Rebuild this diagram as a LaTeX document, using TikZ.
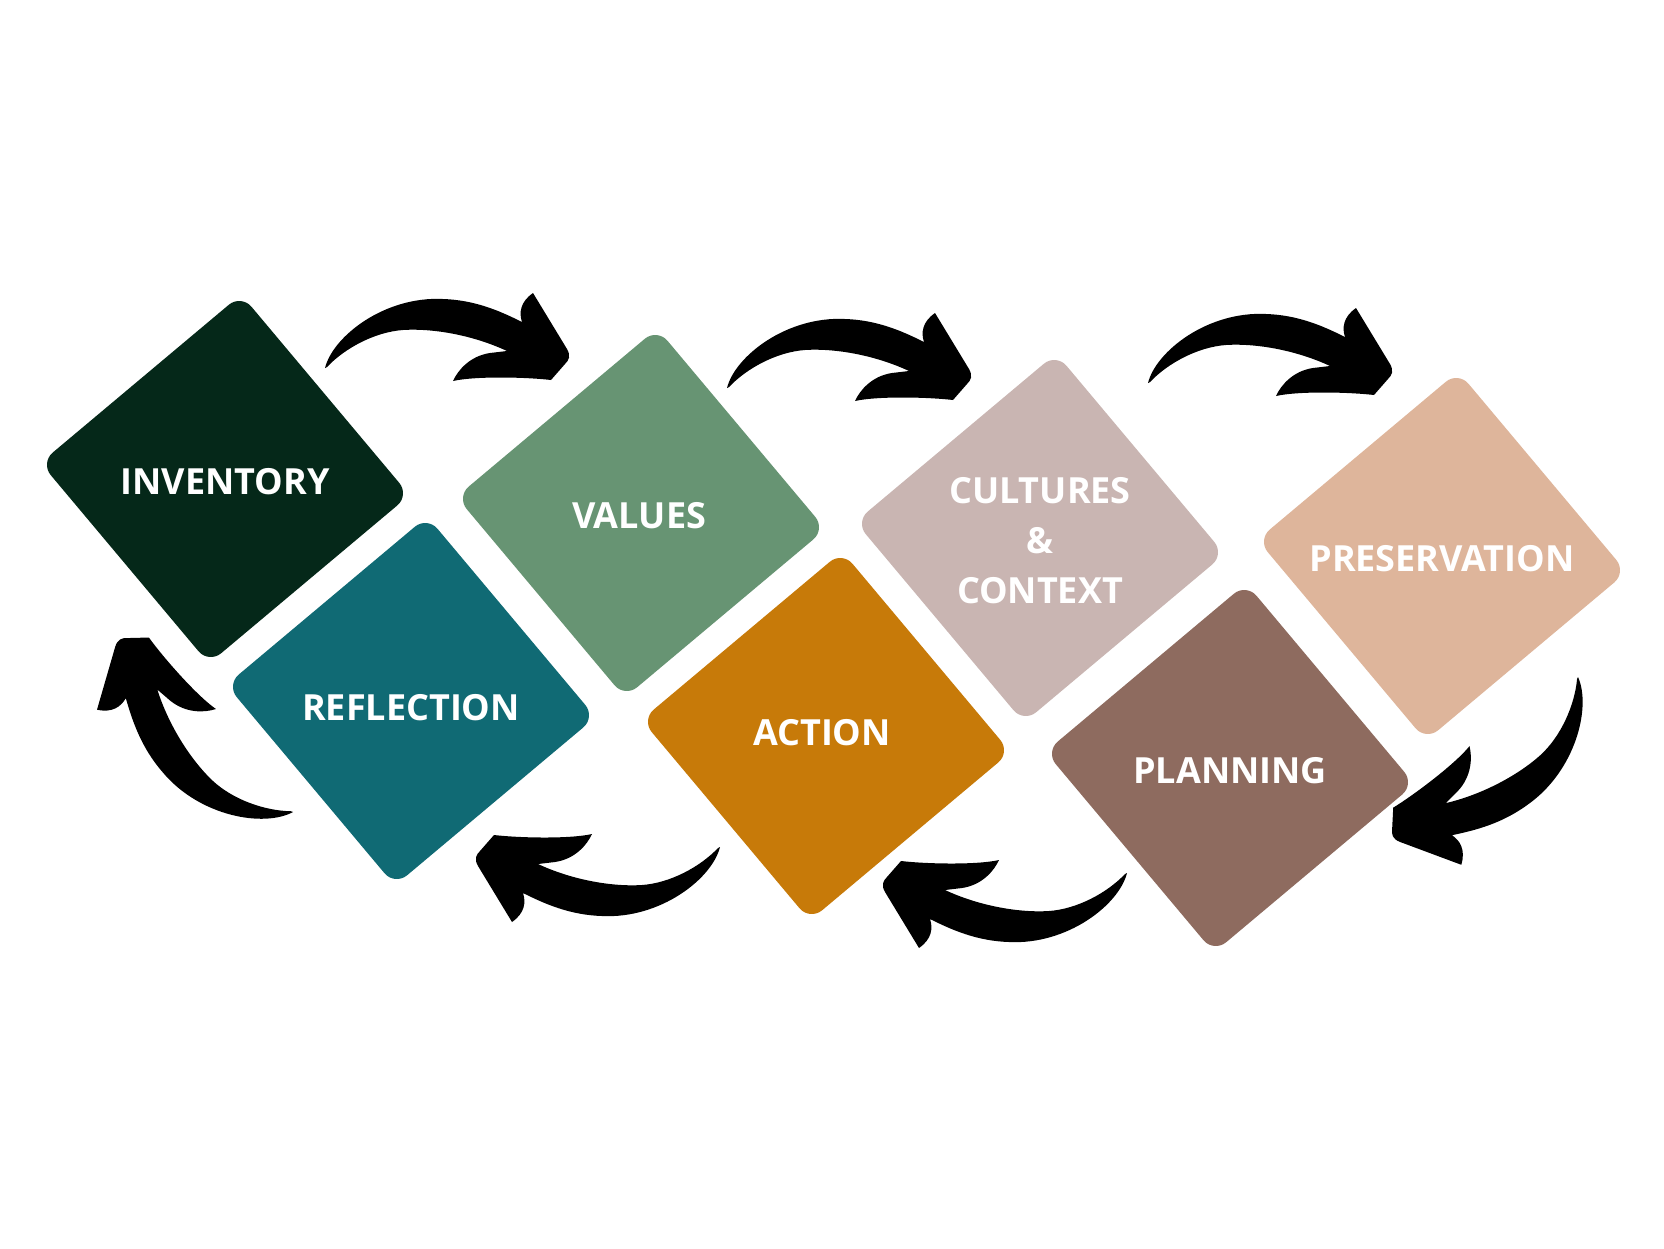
\documentclass[tikz,border=0pt]{standalone}
\usepackage{fontspec}
\setmainfont{Open Sans}
\usepackage{tikz}
\definecolor{inventory}{RGB}{5,40,25}
\definecolor{values}{RGB}{103,148,115}
\definecolor{cultures}{RGB}{201,181,178}
\definecolor{preservation}{RGB}{222,181,155}
\definecolor{reflection}{RGB}{16,106,116}
\definecolor{action}{RGB}{199,122,9}
\definecolor{planning}{RGB}{142,107,95}

\begin{document}
\begin{tikzpicture}[x=1pt, y=-1pt,
  tile/.style={rectangle, rounded corners=16pt, minimum size=262pt, inner sep=0pt, rotate=40},
  tag/.style={text=white, align=center, font=\fontsize{36}{50}\selectfont\bfseries, yshift=-3pt},
  swoosh/.pic={
    \fill[black] (0,0) .. controls (8,-32) and (60,-72) .. (118,-69)
      .. controls (150,-68) and (175,-57) .. (197,-46)
      .. controls (194,-55) and (195,-66) .. (208,-75)
      -- (242,-19) .. controls (246,-12) and (244,-8) .. (240,-4) -- (226,12)
      .. controls (200,9) and (150,8) .. (128,13)
      .. controls (133,2) and (145,-12) .. (165,-15) -- (182,-17)
      .. controls (150,-32) and (110,-40) .. (78,-38)
      .. controls (50,-36) and (20,-20) .. (2,-1) -- cycle;
  }]
\useasboundingbox (0,0) rectangle (1664,1248);

% top row
\node[tile, fill=inventory] (inventory) at (225,479) {};
\node[tile, fill=values] (values) at (641,513) {};
\node[tile, fill=cultures] (cultures) at (1040,538) {};
\node[tile, fill=preservation] (preservation) at (1442,556) {};
% bottom row
\node[tile, fill=reflection] (reflection) at (411,701) {};
\node[tile, fill=action] (action) at (826,736) {};
\node[tile, fill=planning] (planning) at (1230,768) {};

\node[tag] (inventory-lbl) at (inventory) {INVENTORY};
\node[tag, xshift=-2pt] (values-lbl) at (values) {VALUES};
\node[tag] (cultures-lbl) at (cultures) {CULTURES\\\&\\CONTEXT};
\node[tag] (preservation-lbl) at (preservation) {PRESERVATION};
\node[tag, yshift=-4pt] (reflection-lbl) at (reflection) {REFLECTION};
\node[tag, xshift=-4pt, yshift=6pt] (action-lbl) at (action) {ACTION};
\node[tag] (planning-lbl) at (planning) {PLANNING};

% arrows round the cycle
\pic at (325,368) {swoosh};
\pic at (727,388) {swoosh};
\pic at (1148,383) {swoosh};
\pic[rotate=-141.7] at (1578,677) {swoosh};
\pic[rotate=180] at (1127,873) {swoosh};
\pic[rotate=180] at (720,847) {swoosh};
\pic[rotate=132.6] at (293,812) {swoosh};
\end{tikzpicture}
\end{document}
